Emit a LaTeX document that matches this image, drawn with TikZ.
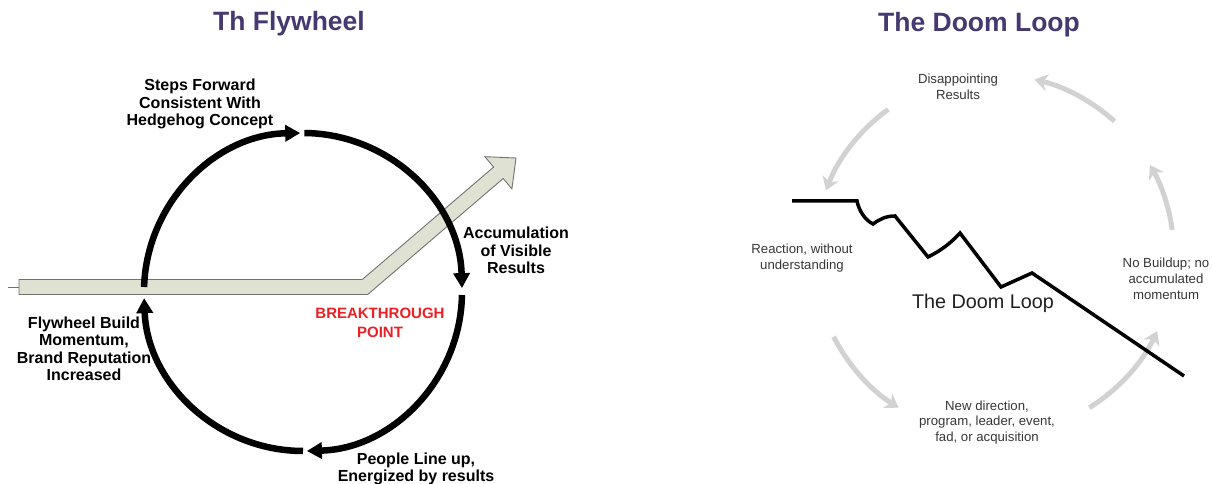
\documentclass[tikz,border=0pt]{standalone}
\usepackage{fontspec}
\setmainfont{Liberation Sans}
\usetikzlibrary{arrows.meta,calc}
\definecolor{titlecol}{RGB}{70,56,112}
\definecolor{barfill}{RGB}{223,225,211}
\definecolor{barline}{RGB}{115,115,110}
\definecolor{loopgray}{RGB}{210,210,210}
\definecolor{labelgray}{RGB}{55,55,55}
\definecolor{breakred}{RGB}{235,32,36}
\tikzset{
  wheelarc/.style={line width=6.5pt, -{Triangle[length=15pt,width=16pt]}},
  loopln/.style={line width=5pt, loopgray, -{Stealth[length=13pt,width=17pt,inset=4pt]}},
  zigln/.style={line width=3.5pt, line join=miter},
  titlelbl/.style={font=\bfseries\fontsize{26.5}{30}\selectfont, text=titlecol},
  fwlabel/.style={font=\bfseries\fontsize{16}{17.5}\selectfont, align=center},
  dllabel/.style={font=\fontsize{13.2}{15.8}\selectfont, text=labelgray, align=center},
}

\begin{document}
\begin{tikzpicture}[x=1pt,y=1pt]
    \useasboundingbox (0,0) rectangle (1212,484);
    % titles
    \node[titlelbl,anchor=base] (fwtitle) at (289,453) {Th Flywheel};
    \node[titlelbl,anchor=base] (dltitle) at (979,452) {The Doom Loop};
    % ---------------- the flywheel ----------------
    \coordinate (fw) at (303,192);
    % breakthrough arrow
    \draw[barline,line width=0.9pt] (8,196.5) -- (19,196.5);
    \draw[barline,fill=barfill,line width=0.9pt]
      (19,204.5) -- (362.3,204.5) -- (493.6,316.9) -- (484.9,327.3) -- (516,326)
      -- (511.9,295.1) -- (503.2,305.5) -- (367.7,189.5) -- (19,189.5) -- cycle;
    % the four arcs of the wheel
    \draw[wheelarc] ($(fw)+(178.2:159pt)$) arc[start angle=178.2, end angle=91, radius=159pt];
    \draw[wheelarc] ($(fw)+(89.5:159pt)$) arc[start angle=89.5, end angle=1.4, radius=159pt];
    \draw[wheelarc] ($(fw)+(-1.1:159pt)$) arc[start angle=-1.1, end angle=-88.6, radius=159pt];
    \draw[wheelarc] ($(fw)+(-90:159pt)$) arc[start angle=-90, end angle=-177.8, radius=159pt];
    \node[fwlabel] (steps) at (200,380) {Steps Forward\\Consistent With\\Hedgehog Concept};
    \node[fwlabel] (accum) at (516,233.5) {Accumulation\\of Visible\\Results};
    \node[fwlabel] (momentum) at (84,135) {Flywheel Build\\Momentum,\\Brand Reputation\\Increased};
    \node[fwlabel] (people) at (416,15) {People Line up,\\Energized by results};
    \node[fwlabel,text=breakred,font=\bfseries\fontsize{15}{19}\selectfont] (breakpt)
      at (380,161.5) {BREAKTHROUGH\\POINT};
    % ---------------- the doom loop ----------------
    \coordinate (dl) at (994,229);
    \foreach \sa/\ea in {126/159, 48/77, 8/30, -58/-25, 207/238} {
      \draw[loopln] ($(dl)+(\sa:180pt)$) arc[start angle=\sa, end angle=\ea, radius=180pt];
    }
    % falling line
    \draw[zigln] (792,283) -- (857,283) .. controls (859,273) and (865,264) .. (873,260)
      .. controls (880,265) and (886,268) .. (895,268) -- (928,227)
      .. controls (940,233) and (950,240) .. (960,251) -- (1001,197) -- (1032,211) -- (1184,108);
    \node[dllabel] (disres) at (958,397) {Disappointing\\Results};
    \node[dllabel] (reaction) at (802,226) {Reaction, without\\understanding};
    \node[dllabel] (nobuild) at (1166,205.5) {No Buildup; no\\accumulated\\momentum};
    \node[dllabel] (newdir) at (987,61.5) {New direction,\\program, leader, event,\\fad, or acquisition};
    \node[font=\fontsize{19.8}{22}\selectfont,text=black!88] (dlname) at (983,181) {The Doom Loop};
\end{tikzpicture}
\end{document}
